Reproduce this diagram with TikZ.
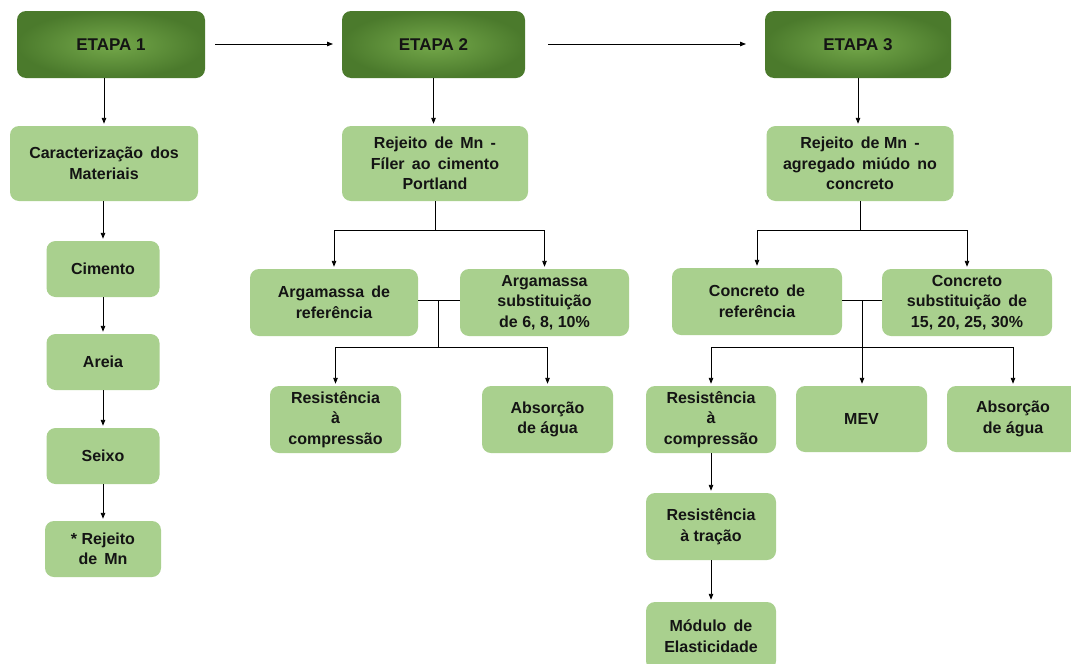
\documentclass[tikz,border=0pt]{standalone}
\usepackage{fontspec}
\setmainfont{Liberation Sans}
\usetikzlibrary{arrows.meta}
\definecolor{boxg}{HTML}{A9D08E}
\definecolor{hdark}{HTML}{4B7A2C}
\definecolor{hlight}{HTML}{74A84A}
\definecolor{txt}{HTML}{141414}
\newcommand{\ws}{\hspace{0.45em}}
\tikzset{
  hdr/.style={rounded corners=9pt, inner color=hlight, outer color=hdark, minimum width=#1, minimum height=67pt, text=txt, font=\bfseries\fontsize{17}{20}\selectfont, inner sep=0pt},
  hdr/.default=188pt,
  gbox/.style={rounded corners=9pt, fill=boxg, text=txt, align=center, font=\bfseries\fontsize{16}{20.5}\selectfont, inner sep=0pt},
  arr/.style={-{Triangle[length=6pt,width=4.5pt]}, line width=0.9pt, black, shorten >=2pt},
  ln/.style={line width=0.9pt, black}
}
\begin{document}
\begin{tikzpicture}[x=1pt,y=-1pt]
\clip (0,0) rectangle (1071,664);
\fill[white] (0,0) rectangle (1071,664);
% headers
\node[hdr=188pt] (e1) at (111,44.5) {ETAPA 1};
\node[hdr=183pt] (e2) at (433.5,44.5) {ETAPA 2};
\node[hdr=186pt] (e3) at (858,44.5) {ETAPA 3};
\draw[arr] (215,44) coordinate (a1) -- (335,44) coordinate (a1e);
\draw[arr] (548,44) coordinate (a2) -- (748,44) coordinate (a2e);
% stage 1
\node[gbox, minimum width=188pt, minimum height=75pt] (c1) at (104,163.5) {Caracterização\ws dos\\Materiais};
\node[gbox, minimum width=113pt, minimum height=56pt] (s1) at (103,269) {Cimento};
\node[gbox, minimum width=113pt, minimum height=56pt] (s2) at (103,362) {Areia};
\node[gbox, minimum width=113pt, minimum height=56pt] (s3) at (103,456) {Seixo};
\node[gbox, minimum width=116pt, minimum height=56pt] (s4) at (103,549) {* Rejeito\\de\ws Mn};
\draw[arr] (e1.south -| c1.north) -- (c1.north);
\draw[arr] (c1.south -| s1.north) -- (s1.north);
\draw[arr] (s1.south) -- (s2.north);
\draw[arr] (s2.south) -- (s3.north);
\draw[arr] (s3.south) -- (s4.north);
% stage 2
\node[gbox, minimum width=186pt, minimum height=75pt] (f2) at (435,163.5) {Rejeito\ws de\ws Mn\ws -\\Fíler\ws ao\ws cimento\\Portland};
\node[gbox, minimum width=168pt, minimum height=67pt] (ar2) at (334,302.5) {Argamassa\ws de\\referência};
\node[gbox, minimum width=169pt, minimum height=67pt] (as2) at (544.5,302.5) {Argamassa\\substituição\\de 6, 8, 10\%};
\node[gbox, minimum width=131pt, minimum height=67pt] (rc2) at (335.5,419.5) {Resistência\\à\\compressão};
\node[gbox, minimum width=131pt, minimum height=67pt] (ab2) at (547.5,419.5) {Absorção\\de água};
\draw[arr] (e2.south) -- (f2.north -| e2.south);
\coordinate (j2) at (435,230);
\draw[ln] (f2.south) -- (j2);
\draw[arr] (j2) -| (ar2.north);
\draw[arr] (j2) -| (as2.north);
\draw[ln] (ar2.east |- 0,300) coordinate (p2) -- (as2.west |- 0,300) coordinate (q2);
\coordinate (m2) at (438,300);
\coordinate (k2) at (438,347);
\draw[ln] (m2) -- (k2);
\draw[arr] (k2) -| (rc2.north);
\draw[arr] (k2) -| (ab2.north);
% stage 3
\node[gbox, minimum width=187pt, minimum height=75pt] (f3) at (860,163.5) {Rejeito\ws de Mn\ws -\\agregado\ws miúdo\ws no\\concreto};
\node[gbox, minimum width=170pt, minimum height=67pt] (ar3) at (757,301.5) {Concreto\ws de\\referência};
\node[gbox, minimum width=170pt, minimum height=67pt] (as3) at (967,302.5) {Concreto\\substituição\ws de\\15, 20, 25, 30\%};
\node[gbox, minimum width=130pt, minimum height=67pt] (rc3) at (711,419.5) {Resistência\\à\\compressão};
\node[gbox, minimum width=131pt, minimum height=66pt] (mev) at (861.5,419) {MEV};
\node[gbox, minimum width=132pt, minimum height=66pt] (ab3) at (1013,419) {Absorção\\de água};
\node[gbox, minimum width=130pt, minimum height=67pt] (rt3) at (711,526.5) {Resistência\\à tração};
\node[gbox, minimum width=130pt, minimum height=68pt] (me3) at (711,636) {Módulo\ws de\\Elasticidade};
\draw[arr] (e3.south) -- (f3.north -| e3.south);
\coordinate (j3) at (860,230);
\draw[ln] (f3.south) -- (j3);
\draw[arr] (j3) -| (ar3.north);
\draw[arr] (j3) -| (as3.north);
\draw[ln] (ar3.east |- 0,300) -- (as3.west |- 0,300);
\coordinate (m3) at (862,300);
\coordinate (k3) at (862,347);
\draw[arr] (m3) -- (mev.north -| m3);
\draw[arr] (k3) -| (rc3.north);
\draw[arr] (k3) -| (ab3.north);
\draw[arr] (rc3.south) -- (rt3.north);
\draw[arr] (rt3.south) -- (me3.north);
\end{tikzpicture}
\end{document}
